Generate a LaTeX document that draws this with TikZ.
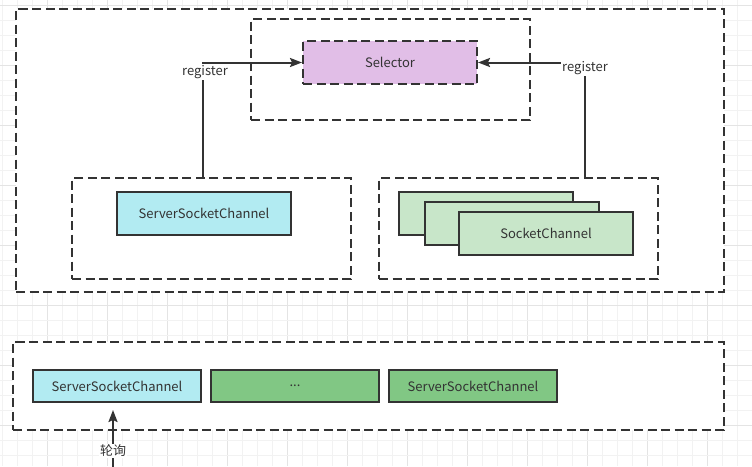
\documentclass[tikz,border=0pt]{standalone}
\usepackage{fontspec}
\newfontfamily\cjk{Noto Sans CJK SC}
\usetikzlibrary{arrows.meta}
\definecolor{ink}{HTML}{333333}
\definecolor{gridminor}{HTML}{F2F2F2}
\definecolor{gridmajor}{HTML}{E4E4E4}
\definecolor{selfill}{HTML}{E1BEE7}
\definecolor{cyanfill}{HTML}{B2EBF2}
\definecolor{lightgreen}{HTML}{C8E6C9}
\definecolor{midgreen}{HTML}{81C784}
\tikzset{
  txt/.style={font=\cjk\fontsize{13}{15}\selectfont, text=ink},
  grp/.style={draw=ink, line width=2pt, dash pattern=on 9pt off 4.5pt, fill=white, rectangle, inner sep=0pt},
  solidbox/.style={draw=ink, line width=2pt, rectangle, inner sep=0pt, txt},
  lab/.style={txt, fill=white, inner sep=1pt},
  conn/.style={draw=ink, line width=2pt},
  arr/.style={conn, -{Stealth[length=12pt,width=9pt,inset=2pt]}}
}
\begin{document}
\begin{tikzpicture}[x=1pt,y=-1pt]
\useasboundingbox (0,0) rectangle (752,466);
\fill[white] (0,0) rectangle (752,466);
% grid
\foreach \i in {0,...,50} {
  \pgfmathsetmacro{\xx}{2.7+15*\i}
  \pgfmathtruncatemacro{\m}{mod(\i,4)}
  \ifnum\m=3 \draw[gridmajor, line width=1pt] (\xx,0) -- (\xx,466);
  \else \draw[gridminor, line width=1pt] (\xx,0) -- (\xx,466); \fi
}
\foreach \i in {0,...,31} {
  \pgfmathsetmacro{\yy}{5.3+15*\i}
  \pgfmathtruncatemacro{\m}{mod(\i,4)}
  \ifnum\m=0 \draw[gridmajor, line width=1pt] (0,\yy) -- (752,\yy);
  \else \draw[gridminor, line width=1pt] (0,\yy) -- (752,\yy); \fi
}
% top container
\node[grp, minimum width=708pt, minimum height=283pt] (top) at (370,150.5) {};
\node[grp, minimum width=279pt, minimum height=101pt] (selgrp) at (390.5,69.5) {};
\node[grp, minimum width=174pt, minimum height=43pt, fill=selfill, txt] (sel) at (390,62.5) {Selector};
\node[grp, minimum width=279pt, minimum height=101pt] (srvgrp) at (211.5,228.5) {};
\node[solidbox, minimum width=174pt, minimum height=43pt, fill=cyanfill] (srv) at (204,213.5) {ServerSocketChannel};
\node[grp, minimum width=279pt, minimum height=101pt] (sockgrp) at (518.5,228.5) {};
\node[solidbox, minimum width=174pt, minimum height=43pt, fill=lightgreen] (sc1) at (486,213.5) {};
\node[solidbox, minimum width=174pt, minimum height=43pt, fill=lightgreen] (sc2) at (512,223.5) {};
\node[solidbox, minimum width=174pt, minimum height=43pt, fill=lightgreen] (sc3) at (546,233.5) {SocketChannel};
% connectors
\coordinate (lc) at (203,0);
\coordinate (rc) at (585,0);
\draw[arr] (lc |- srvgrp.north) -- (lc |- sel.west) -- (sel.west);
\draw[arr] (rc |- sockgrp.north) -- (rc |- sel.east) -- (sel.east);
\node[lab] (reg1) at (205,72) {register};
\node[lab] (reg2) at (585,68.5) {register};
% bottom container
\node[grp, minimum width=711pt, minimum height=88pt] (bot) at (368.5,386) {};
\node[solidbox, minimum width=168pt, minimum height=32pt, fill=cyanfill] (b1) at (117,386) {ServerSocketChannel};
\node[solidbox, minimum width=168pt, minimum height=32pt, fill=midgreen] (b2) at (295,386) {...};
\node[solidbox, minimum width=168pt, minimum height=32pt, fill=midgreen] (b3) at (473,386) {ServerSocketChannel};
\coordinate (p0) at (113,470);
\draw[arr, shorten >=7pt] (p0) -- (p0 |- b1.south);
\node[lab] (poll) at (113,451) {轮询};
\end{tikzpicture}
\end{document}
